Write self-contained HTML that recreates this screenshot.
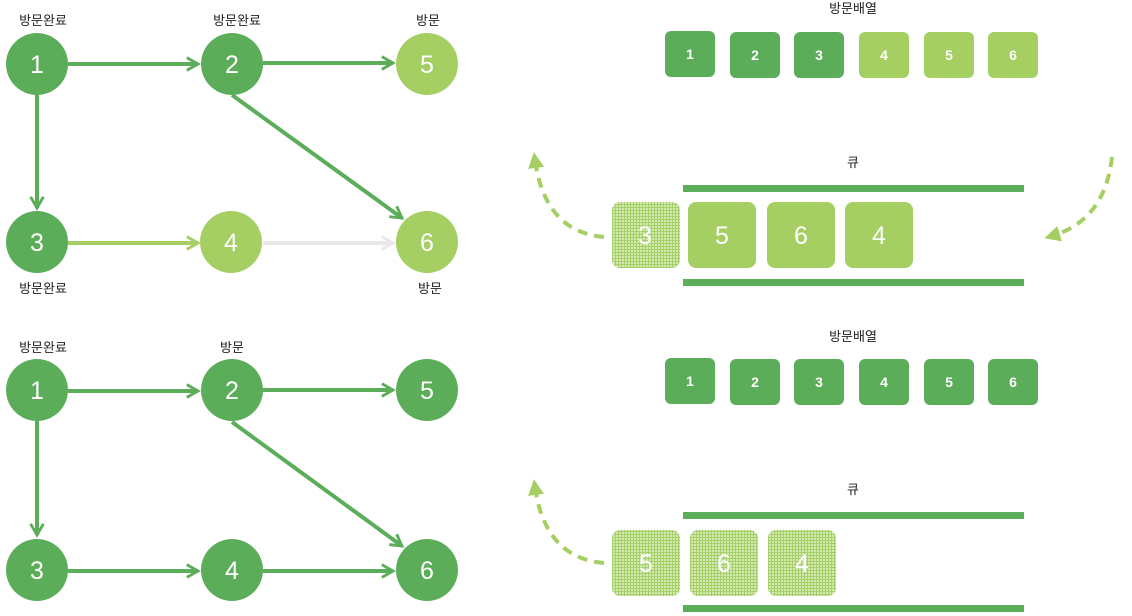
<!DOCTYPE html>
<html><head><meta charset="utf-8"><style>
html,body{margin:0;padding:0;background:#fff;width:1132px;height:616px;overflow:hidden}
svg text{font-family:"Liberation Sans","Noto Sans CJK KR",sans-serif}
</style></head><body>
<svg width="1132" height="616" viewBox="0 0 1132 616" xmlns="http://www.w3.org/2000/svg">
<defs>
<pattern id="grid" width="3" height="3" patternUnits="userSpaceOnUse">
<rect width="3" height="3" fill="#d4eab3"/>
<path d="M0 0.5H3M0.5 0V3" stroke="#a6cf68" stroke-width="1"/>
</pattern>
<marker id="ad" viewBox="0 0 10 10" refX="8" refY="5" markerWidth="4" markerHeight="4" orient="auto" markerUnits="strokeWidth"><path d="M1 1L8 5L1 9" fill="none" stroke="#5cad5a" stroke-width="1.8"/></marker>
<marker id="al" viewBox="0 0 10 10" refX="8" refY="5" markerWidth="4" markerHeight="4" orient="auto" markerUnits="strokeWidth"><path d="M1 1L8 5L1 9" fill="none" stroke="#a5cf63" stroke-width="1.8"/></marker>
<marker id="ag" viewBox="0 0 10 10" refX="8" refY="5" markerWidth="4" markerHeight="4" orient="auto" markerUnits="strokeWidth"><path d="M1 1L8 5L1 9" fill="none" stroke="#e8e8e8" stroke-width="1.8"/></marker>
<marker id="af" viewBox="0 0 10 10" refX="5" refY="5" markerWidth="4" markerHeight="4" orient="auto" markerUnits="strokeWidth"><path d="M0 0L10 5L0 10Z" fill="#a5cf63"/></marker>
</defs>
<g stroke-width="4" fill="none">
<line x1="68" y1="64" x2="198" y2="64" stroke="#5cad5a" marker-end="url(#ad)"/>
<line x1="263" y1="63" x2="393" y2="63" stroke="#5cad5a" marker-end="url(#ad)"/>
<line x1="37" y1="95" x2="37" y2="208" stroke="#5cad5a" marker-end="url(#ad)"/>
<line x1="232" y1="95" x2="402" y2="218" stroke="#5cad5a" marker-end="url(#ad)"/>
<line x1="68" y1="243" x2="198" y2="243" stroke="#a5cf63" marker-end="url(#al)"/>
<line x1="263" y1="243" x2="393" y2="243" stroke="#e8e8e8" marker-end="url(#ag)"/>
<line x1="68" y1="391" x2="198" y2="391" stroke="#5cad5a" marker-end="url(#ad)"/>
<line x1="263" y1="390" x2="393" y2="390" stroke="#5cad5a" marker-end="url(#ad)"/>
<line x1="37" y1="421" x2="37" y2="535" stroke="#5cad5a" marker-end="url(#ad)"/>
<line x1="232" y1="422" x2="402" y2="546" stroke="#5cad5a" marker-end="url(#ad)"/>
<line x1="68" y1="571" x2="198" y2="571" stroke="#5cad5a" marker-end="url(#ad)"/>
<line x1="263" y1="571" x2="393" y2="571" stroke="#5cad5a" marker-end="url(#ad)"/>
</g>
<g font-size="25" fill="#fff" text-anchor="middle">
<circle cx="37" cy="64" r="31" fill="#5cad5a"/><text x="37" y="73">1</text>
<circle cx="232" cy="64" r="31" fill="#5cad5a"/><text x="232" y="73">2</text>
<circle cx="427" cy="64" r="31" fill="#a5cf63"/><text x="427" y="73">5</text>
<circle cx="37" cy="242" r="31" fill="#5cad5a"/><text x="37" y="251">3</text>
<circle cx="231" cy="242" r="31" fill="#a5cf63"/><text x="231" y="251">4</text>
<circle cx="427" cy="242" r="31" fill="#a5cf63"/><text x="427" y="251">6</text>
<circle cx="37" cy="390" r="31" fill="#5cad5a"/><text x="37" y="399">1</text>
<circle cx="232" cy="390" r="31" fill="#5cad5a"/><text x="232" y="399">2</text>
<circle cx="427" cy="390" r="31" fill="#5cad5a"/><text x="427" y="399">5</text>
<circle cx="37" cy="570" r="31" fill="#5cad5a"/><text x="37" y="579">3</text>
<circle cx="232" cy="570" r="31" fill="#5cad5a"/><text x="232" y="579">4</text>
<circle cx="427" cy="570" r="31" fill="#5cad5a"/><text x="427" y="579">6</text>
</g>
<g font-size="13" fill="#222" text-anchor="middle">
<text x="43" y="25">방문완료</text><text x="237" y="25">방문완료</text><text x="428" y="25">방문</text>
<text x="43" y="293">방문완료</text><text x="430" y="293">방문</text>
<text x="43" y="352">방문완료</text><text x="232" y="352">방문</text>
<text x="853" y="13">방문배열</text><text x="853" y="167">큐</text>
<text x="853" y="341">방문배열</text><text x="853" y="494">큐</text>
</g>
<g font-size="14" font-weight="bold" fill="#fff" text-anchor="middle">
<rect x="665" y="31" width="50" height="46" rx="6" fill="#5cad5a"/><text x="690" y="59">1</text>
<rect x="730" y="32" width="50" height="46" rx="6" fill="#5cad5a"/><text x="755" y="60">2</text>
<rect x="794" y="32" width="50" height="46" rx="6" fill="#5cad5a"/><text x="819" y="60">3</text>
<rect x="859" y="32" width="50" height="46" rx="6" fill="#a5cf63"/><text x="884" y="60">4</text>
<rect x="924" y="32" width="50" height="46" rx="6" fill="#a5cf63"/><text x="949" y="60">5</text>
<rect x="988" y="32" width="50" height="46" rx="6" fill="#a5cf63"/><text x="1013" y="60">6</text>
<rect x="665" y="358" width="50" height="46" rx="6" fill="#5cad5a"/><text x="690" y="386">1</text>
<rect x="730" y="359" width="50" height="46" rx="6" fill="#5cad5a"/><text x="755" y="387">2</text>
<rect x="794" y="359" width="50" height="46" rx="6" fill="#5cad5a"/><text x="819" y="387">3</text>
<rect x="859" y="359" width="50" height="46" rx="6" fill="#5cad5a"/><text x="884" y="387">4</text>
<rect x="924" y="359" width="50" height="46" rx="6" fill="#5cad5a"/><text x="949" y="387">5</text>
<rect x="988" y="359" width="50" height="46" rx="6" fill="#5cad5a"/><text x="1013" y="387">6</text>
</g>
<g fill="#5cad5a">
<rect x="683" y="185" width="341" height="7"/><rect x="683" y="279" width="341" height="7"/>
<rect x="683" y="512" width="341" height="7"/><rect x="683" y="605" width="341" height="7"/>
</g>
<g font-size="25" fill="#fff" text-anchor="middle">
<rect x="612" y="202" width="68" height="66" rx="8" fill="url(#grid)"/><text x="645" y="244">3</text>
<rect x="688" y="202" width="68" height="66" rx="8" fill="#a5cf63"/><text x="722" y="244">5</text>
<rect x="767" y="202" width="68" height="66" rx="8" fill="#a5cf63"/><text x="801" y="244">6</text>
<rect x="845" y="202" width="68" height="66" rx="8" fill="#a5cf63"/><text x="879" y="244">4</text>
<rect x="612" y="530" width="68" height="66" rx="8" fill="url(#grid)"/><text x="646" y="572">5</text>
<rect x="690" y="530" width="68" height="66" rx="8" fill="url(#grid)"/><text x="724" y="572">6</text>
<rect x="768" y="530" width="68" height="66" rx="8" fill="url(#grid)"/><text x="802" y="572">4</text>
</g>
<g fill="none" stroke="#a5cf63" stroke-width="4" stroke-dasharray="10 7">
<path d="M604 237 Q545 232 535 160" marker-end="url(#af)"/>
<path d="M1112 157 Q1105 220 1052 236" marker-end="url(#af)"/>
<path d="M604 563 Q545 558 535 487" marker-end="url(#af)"/>
</g>
</svg>
</body></html>
